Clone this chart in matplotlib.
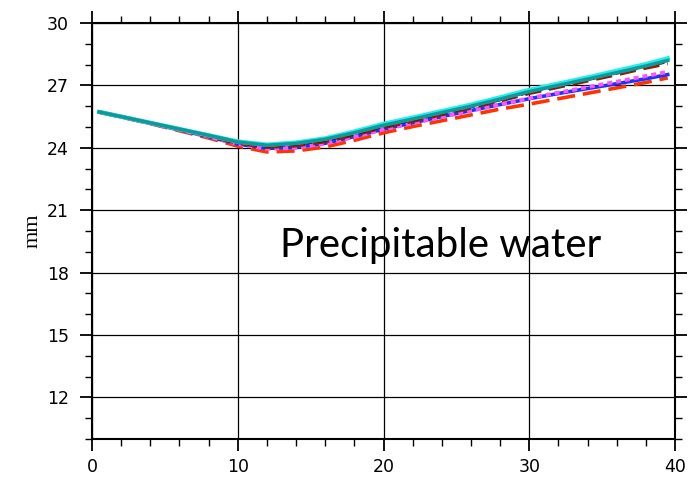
import matplotlib
matplotlib.use("Agg")
import matplotlib.pyplot as plt
from matplotlib.ticker import MultipleLocator

x = [0.5, 2, 4, 6, 8, 10, 12, 14, 16, 18, 20, 22, 24, 26, 28, 30, 32, 34, 36, 38, 39.5]

cyan    = [25.72, 25.50, 25.20, 24.90, 24.60, 24.30, 24.15, 24.25, 24.45, 24.78, 25.15, 25.45, 25.76, 26.07, 26.42, 26.78, 27.08, 27.38, 27.70, 28.02, 28.30]
teal    = [25.72, 25.50, 25.20, 24.90, 24.60, 24.28, 24.12, 24.21, 24.41, 24.72, 25.08, 25.38, 25.69, 26.00, 26.34, 26.70, 27.00, 27.30, 27.61, 27.93, 28.20]
black   = [25.72, 25.50, 25.20, 24.89, 24.58, 24.25, 24.08, 24.16, 24.35, 24.66, 25.02, 25.33, 25.64, 25.96, 26.30, 26.66, 26.96, 27.27, 27.58, 27.90, 28.14]
brown   = [25.72, 25.50, 25.19, 24.88, 24.56, 24.22, 24.03, 24.10, 24.30, 24.62, 24.98, 25.28, 25.60, 25.92, 26.26, 26.62, 26.92, 27.22, 27.52, 27.84, 28.05]
magenta = [25.72, 25.49, 25.18, 24.86, 24.53, 24.18, 23.95, 24.00, 24.20, 24.52, 24.88, 25.18, 25.48, 25.78, 26.08, 26.38, 26.65, 26.92, 27.18, 27.45, 27.65]
blue    = [25.72, 25.49, 25.18, 24.86, 24.53, 24.18, 23.97, 24.02, 24.22, 24.54, 24.90, 25.20, 25.50, 25.79, 26.08, 26.36, 26.61, 26.85, 27.08, 27.32, 27.52]
red     = [25.72, 25.48, 25.16, 24.82, 24.47, 24.08, 23.80, 23.85, 24.04, 24.36, 24.72, 25.02, 25.30, 25.58, 25.86, 26.10, 26.36, 26.62, 26.88, 27.14, 27.36]

xticks = [0, 10, 20, 30, 40]
yticks = [12, 15, 18, 21, 24, 27, 30]

fig = plt.figure(figsize=(6.96, 4.83), dpi=100)
ax = fig.add_axes([92/696, 44/483, (675-92)/696, (439-23)/483])

ax.plot(x, red, color="#ff3300", lw=2.6, ls=(0, (5, 2.2)), zorder=3)
ax.plot(x, blue, color="#1a33ff", lw=2.6, ls="-", zorder=3)
ax.plot(x, magenta, color="#ff55ff", lw=2.8, ls=(0, (1.3, 1.0)), zorder=3)
ax.plot(x, brown, color="#991a00", lw=2.6, ls=(0, (4.5, 2.2)), zorder=3)
ax.plot(x, black, color="#222222", lw=2.0, ls=(0, (3, 2)), zorder=3)
ax.plot(x, cyan, color="#22eeee", lw=3.2, ls="-", zorder=4)
ax.plot(x, teal, color="#119999", lw=2.6, ls="-", zorder=5)

ax.set_xlim(0, 40)
ax.set_ylim(10, 30)
ax.set_xticks(xticks)
ax.set_yticks(yticks)
ax.xaxis.set_minor_locator(MultipleLocator(2))
ax.yaxis.set_minor_locator(MultipleLocator(1))
ax.tick_params(which="major", direction="out", length=8.5, width=1.3, top=True, right=True,
               labeltop=False, labelright=False, labelsize=12.5, color="black")
ax.tick_params(which="minor", direction="out", length=5, width=1.0, top=True, right=True)
ax.tick_params(axis="x", which="major", pad=5)
ax.tick_params(axis="y", which="major", pad=8)
ax.grid(True, which="major", color="black", lw=0.9)
for s in ax.spines.values():
    s.set_linewidth(1.5)

ax.set_ylabel("mm", family="Liberation Serif", fontsize=16, labelpad=3)

ax.text(23.9, 19.3, "Precipitable water", family="Lato", fontsize=29, ha="center", va="center")

fig.savefig("out.png", dpi=100)
